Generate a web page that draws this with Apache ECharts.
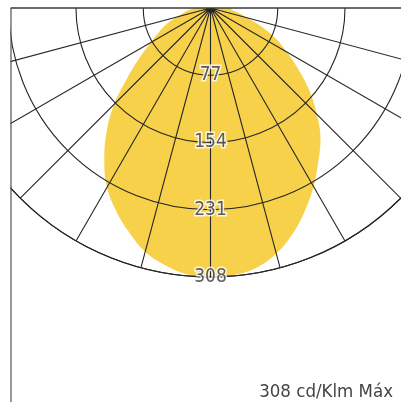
<!DOCTYPE html>
<html>
<head>
<meta charset="utf-8">
<script src="https://cdn.jsdelivr.net/npm/echarts@6/dist/echarts.min.js"></script>
<style>html,body{margin:0;padding:0;background:#fff}#c{width:401px;height:402px}</style>
</head>
<body>
<div id="c"></div>
<script>
// angles measured from the downward vertical (negative = left side), degrees
const angles = [-90,-85,-80,-75,-70,-65,-60,-55,-50,-45,-40,-35,-30,-25,-20,-15,-10,-5,0,5,10,15,20,25,30,35,40,45,50,55,60,65,70,75,80,85,90];
// luminous intensity (cd/klm)
const intensity = [18,24,31,40,53,65,79,99,124,156,185,212,237,256,273,289,299,306,308,307,302,291,275,256,236,215,196,172,148,123,101,82,62,44,33,25,22];
const ringValues = [77,154,231,308];
const maxValue = 308;
const unitText = 'cd/Klm Máx';

const condensed = '"DejaVu Sans Condensed", "Liberation Sans Narrow", "DejaVu Sans", sans-serif';
const gridColor = '#262626';

const chart = echarts.init(document.getElementById('c'), null, {renderer: 'canvas'});
chart.setOption({
  animation: false,
  backgroundColor: '#fff',
  polar: { center: [210.5, 8], radius: 269 },
  angleAxis: {
    type: 'value', min: -90, max: 90, interval: 15,
    startAngle: 180, endAngle: 360, clockwise: false,
    axisLine: { show: true, lineStyle: { color: gridColor, width: 1.1 } },
    axisTick: { show: false },
    axisLabel: { show: false },
    splitLine: { show: true, lineStyle: { color: gridColor, width: 1.1 } },
    z: 5
  },
  radiusAxis: {
    type: 'value', min: 0, max: maxValue, interval: 77,
    axisLine: { show: false },
    axisTick: { show: false },
    axisLabel: { show: false },
    splitLine: { show: true, lineStyle: { color: gridColor, width: 1.1 } },
    z: 5
  },
  series: [
    {
      type: 'line',
      coordinateSystem: 'polar',
      data: angles.map((a, i) => [intensity[i], a]),
      smooth: 0.4,
      symbol: 'none',
      lineStyle: { width: 0, color: '#F8D14A' },
      areaStyle: { color: '#F8D14A', opacity: 1 },
      z: 1
    },
    {
      type: 'scatter',
      coordinateSystem: 'polar',
      data: ringValues.map(v => [v, 0]),
      symbolSize: 0,
      z: 10,
      label: {
        show: true, position: 'inside',
        formatter: p => String(p.value[0]),
        fontSize: 19, fontFamily: condensed, color: '#333',
        textBorderColor: '#fff', textBorderWidth: 3
      }
    }
  ],
  graphic: [
    { type: 'rect', z: 100, shape: { x: 0, y: 0, width: 10.5, height: 402 }, style: { fill: '#fff' } },
    { type: 'line', z: 101, shape: { x1: 11, y1: 8, x2: 11, y2: 402 }, style: { stroke: '#444', lineWidth: 1.1 } },
    { type: 'line', z: 101, shape: { x1: 11, y1: 8, x2: 401, y2: 8 }, style: { stroke: '#444', lineWidth: 1.1 } },
    { type: 'text', z: 101, style: { text: maxValue + ' ' + unitText, x: 393, y: 392, textAlign: 'right', textVerticalAlign: 'middle', fontSize: 18.5, fontFamily: condensed, fill: '#444' } }
  ]
});
</script>
</body>
</html>
